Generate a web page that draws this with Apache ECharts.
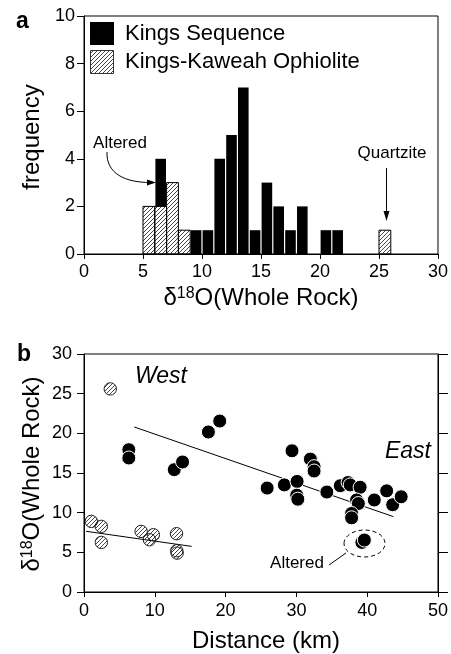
<!DOCTYPE html>
<html>
<head>
<meta charset="utf-8">
<script src="https://cdn.jsdelivr.net/npm/echarts@6/dist/echarts.min.js"></script>
<style>
  html, body { margin: 0; padding: 0; background: #fff; }
  #chart { width: 451px; height: 654px; }
</style>
</head>
<body>
<div id="chart"></div>
<script>
// ---- Panel a: histogram of whole-rock δ18O (1 ‰ bins, keyed by lower edge) ----
const kingsBins   = [6, 9, 10, 11, 12, 13, 14, 15, 16, 17, 18, 20, 21];
const kingsCounts = [2, 1, 1, 4, 5, 7, 1, 3, 2, 1, 2, 1, 1];
const ophioBins   = [5, 6, 7, 8, 25];
const ophioCounts = [2, 2, 3, 1, 1];
const histDeltaTicks = [0, 5, 10, 15, 20, 25, 30];
const histFreqTicks  = [0, 2, 4, 6, 8, 10];

// ---- Panel b: δ18O versus distance across the section ----
const kingsDist = [6.33, 6.33, 12.75, 13.92, 17.57, 19.17, 25.87, 28.3, 29.38, 30.1, 30.05, 30.2,
                   31.97, 32.5, 32.5, 34.3, 36.2, 37.3, 37.6, 39.0, 38.5, 38.75, 37.8, 37.8,
                   41.0, 42.75, 43.6, 44.8];
const kingsD18O = [17.94, 16.89, 15.42, 16.39, 20.17, 21.55, 13.1, 13.5, 17.8, 13.94, 12.2, 11.7,
                   16.75, 15.8, 15.25, 12.6, 13.4, 13.8, 13.5, 13.2, 11.6, 11.15, 9.9, 9.35,
                   11.6, 12.75, 11.0, 12.0];
const alteredDist = [39.25, 39.6];
const alteredD18O = [6.25, 6.55];
const ophioDist = [3.71, 1.04, 2.45, 2.45, 8.07, 9.8, 9.24, 13.07, 13.1, 13.15];
const ophioD18O = [25.6, 8.9, 8.27, 6.25, 7.64, 7.22, 6.59, 7.35, 5.2, 4.9];
const kingsTrendX = [7.1, 43.7];
const kingsTrendY = [20.8, 9.5];
const ophioTrendX = [0.3, 15.2];
const ophioTrendY = [7.65, 5.75];
const distTicks  = [0, 10, 20, 30, 40, 50];
const deltaTicks = [0, 5, 10, 15, 20, 25, 30];

const FONT = '"Liberation Sans", Arial, Helvetica, sans-serif';

// Diagonal "////" fill used for the ophiolite samples
function makeHatch(size, color, width) {
  const c = document.createElement('canvas');
  c.width = size; c.height = size;
  const g = c.getContext('2d');
  g.strokeStyle = color;
  g.lineWidth = width;
  g.beginPath();
  g.moveTo(0, size); g.lineTo(size, 0);
  g.moveTo(-1, 1); g.lineTo(1, -1);
  g.moveTo(size - 1, size + 1); g.lineTo(size + 1, size - 1);
  g.stroke();
  return c;
}
const hatchCanvas = makeHatch(4, '#333', 0.9);
const hatch = () => ({ image: hatchCanvas, repeat: 'repeat' });

// Bars as [lower edge, upper edge, base, top]; Kings bars stack on ophiolite bars
const ophioData = ophioBins.map((b, i) => [b, b + 1, 0, ophioCounts[i]]);
const kingsData = kingsBins.map((b, i) => {
  const j = ophioBins.indexOf(b);
  const base = j >= 0 ? ophioCounts[j] : 0;
  return [b, b + 1, base, base + kingsCounts[i]];
});

function barRenderer(kind) {
  return function (params, api) {
    const p0 = api.coord([api.value(0), api.value(2)]);
    const p1 = api.coord([api.value(1), api.value(3)]);
    if (kind === 'solid') {
      return {
        type: 'rect',
        shape: { x: p0[0] + 0.6, y: p1[1], width: p1[0] - p0[0] - 1.2, height: p0[1] - p1[1] },
        style: { fill: '#000' }
      };
    }
    return {
      type: 'rect',
      shape: { x: p0[0], y: p1[1], width: p1[0] - p0[0], height: p0[1] - p1[1] },
      style: { fill: hatch(), stroke: '#000', lineWidth: 1 }
    };
  };
}

// Hatched sample markers, drawn at true pixel radius so the hatch keeps its spacing
function hatchedDot(params, api) {
  const p = api.coord([api.value(0), api.value(1)]);
  return {
    type: 'circle',
    shape: { cx: p[0], cy: p[1], r: 6.2 },
    style: { fill: hatch(), stroke: '#222', lineWidth: 1 }
  };
}

const axisText = { color: '#000', fontFamily: FONT, fontSize: 18 };
const blackLine = { lineStyle: { color: '#000', width: 1 } };

function valueAxis(ticks, extra) {
  return Object.assign({
    type: 'value',
    min: ticks[0],
    max: ticks[ticks.length - 1],
    interval: ticks[1] - ticks[0],
    splitLine: { show: false },
    axisLine: Object.assign({ show: true, onZero: false }, blackLine),
    axisTick: Object.assign({ show: true, inside: false, length: 6 }, blackLine),
    axisLabel: Object.assign({ show: true, margin: 9 }, axisText),
    z: 10
  }, extra);
}

const titleRich = {
  m: { fontFamily: FONT, fontSize: 24, fill: '#000' },
  s: { fontFamily: FONT, fontSize: 16, fill: '#000', verticalAlign: 'top' }
};

const option = {
  animation: false,
  backgroundColor: '#fff',
  grid: [
    { left: 84, top: 16, width: 356, height: 238, show: true, borderColor: '#000', borderWidth: 1 },
    { left: 84, top: 354, width: 356, height: 238, show: true, borderColor: '#000', borderWidth: 1 }
  ],
  xAxis: [
    valueAxis(histDeltaTicks, { gridIndex: 0, axisTick: Object.assign({ length: 5 }, blackLine), axisLabel: Object.assign({ margin: 9 }, axisText) }),
    valueAxis(distTicks, { gridIndex: 1, axisTick: Object.assign({ length: 5 }, blackLine), axisLabel: Object.assign({ margin: 10 }, axisText) })
  ],
  yAxis: [
    valueAxis(histFreqTicks, { gridIndex: 0, axisTick: Object.assign({ length: 7 }, blackLine), axisLabel: Object.assign({ margin: 9 }, axisText) }),
    valueAxis(deltaTicks, { gridIndex: 1, axisTick: Object.assign({ length: 7 }, blackLine), axisLabel: Object.assign({ margin: 12 }, axisText) }),
    valueAxis(deltaTicks, { gridIndex: 1, position: 'right', axisTick: Object.assign({ length: 10 }, blackLine), axisLabel: { show: false } })
  ],
  series: [
    {
      name: 'Kings-Kaweah Ophiolite', type: 'custom', xAxisIndex: 0, yAxisIndex: 0,
      renderItem: barRenderer('hatched'), data: ophioData, z: 3
    },
    {
      name: 'Kings Sequence', type: 'custom', xAxisIndex: 0, yAxisIndex: 0,
      renderItem: barRenderer('solid'), data: kingsData, z: 2
    },
    {
      name: 'Kings trend', type: 'line', xAxisIndex: 1, yAxisIndex: 1, symbol: 'none',
      lineStyle: { color: '#000', width: 1 }, z: 2,
      data: kingsTrendX.map((x, i) => [x, kingsTrendY[i]])
    },
    {
      name: 'Ophiolite trend', type: 'line', xAxisIndex: 1, yAxisIndex: 1, symbol: 'none',
      lineStyle: { color: '#000', width: 1 }, z: 2,
      data: ophioTrendX.map((x, i) => [x, ophioTrendY[i]])
    },
    {
      name: 'Ophiolite samples', type: 'custom', xAxisIndex: 1, yAxisIndex: 1, z: 3,
      renderItem: hatchedDot,
      data: ophioDist.map((x, i) => [x, ophioD18O[i]])
    },
    {
      name: 'Kings samples', type: 'scatter', xAxisIndex: 1, yAxisIndex: 1,
      symbol: 'circle', symbolSize: 14, z: 4,
      itemStyle: { color: '#000', borderColor: '#fff', borderWidth: 1, opacity: 1 },
      data: kingsDist.map((x, i) => [x, kingsD18O[i]])
    },
    {
      name: 'Altered samples', type: 'scatter', xAxisIndex: 1, yAxisIndex: 1,
      symbol: 'circle', symbolSize: 14, z: 4,
      itemStyle: { color: '#000', borderColor: '#fff', borderWidth: 1, opacity: 1 },
      data: alteredDist.map((x, i) => [x, alteredD18O[i]])
    }
  ],
  graphic: [
    // panel letters
    { type: 'text', left: 16, top: 10, style: { text: 'a', font: 'bold 23px ' + FONT, fill: '#000' } },
    { type: 'text', left: 17, top: 343, style: { text: 'b', font: 'bold 23px ' + FONT, fill: '#000' } },
    // legend
    { type: 'rect', shape: { x: 90, y: 22, width: 24, height: 23 }, style: { fill: '#000' } },
    { type: 'rect', shape: { x: 90.5, y: 50.5, width: 23, height: 23 }, style: { fill: hatch(), stroke: '#333', lineWidth: 1 } },
    { type: 'text', x: 125, y: 34, style: { text: 'Kings Sequence', font: '22px ' + FONT, fill: '#000', verticalAlign: 'middle' } },
    { type: 'text', x: 125, y: 62, style: { text: 'Kings-Kaweah Ophiolite', font: '22px ' + FONT, fill: '#000', verticalAlign: 'middle' } },
    // axis titles, panel a
    { type: 'text', x: 32, y: 137, rotation: Math.PI / 2,
      style: { text: 'frequency', font: '24px ' + FONT, fill: '#000', align: 'center', verticalAlign: 'middle' } },
    { type: 'text', x: 261, y: 298,
      style: { text: '{m|δ}{s|18}{m|O(Whole Rock)}', align: 'center', verticalAlign: 'middle', rich: titleRich } },
    // axis titles, panel b
    { type: 'text', x: 32, y: 474, rotation: Math.PI / 2,
      style: { text: '{m|δ}{s|18}{m|O(Whole Rock)}', align: 'center', verticalAlign: 'middle', rich: titleRich } },
    { type: 'text', x: 266, y: 641,
      style: { text: 'Distance (km)', font: '24px ' + FONT, fill: '#000', align: 'center', verticalAlign: 'middle' } },
    // annotations, panel a
    { type: 'text', x: 120, y: 143, style: { text: 'Altered', font: '17px ' + FONT, fill: '#000', align: 'center', verticalAlign: 'middle' } },
    { type: 'bezierCurve', shape: { x1: 107, y1: 152, cpx1: 106, cpy1: 174, cpx2: 126, cpy2: 182.5, x2: 150, y2: 182.5 },
      style: { stroke: '#000', lineWidth: 1, fill: null } },
    { type: 'polygon', shape: { points: [[156, 182.5], [147, 179.5], [147, 185.5]] }, style: { fill: '#000' } },
    { type: 'text', x: 392, y: 153, style: { text: 'Quartzite', font: '17px ' + FONT, fill: '#000', align: 'center', verticalAlign: 'middle' } },
    { type: 'line', shape: { x1: 386.5, y1: 168, x2: 386.5, y2: 213 }, style: { stroke: '#000', lineWidth: 1 } },
    { type: 'polygon', shape: { points: [[386.5, 221], [383.5, 211], [389.5, 211]] }, style: { fill: '#000' } },
    // annotations, panel b
    { type: 'text', x: 161, y: 377, style: { text: 'West', font: 'italic 23px ' + FONT, fill: '#000', align: 'center', verticalAlign: 'middle' } },
    { type: 'text', x: 408, y: 452, style: { text: 'East', font: 'italic 23px ' + FONT, fill: '#000', align: 'center', verticalAlign: 'middle' } },
    { type: 'text', x: 297, y: 563, style: { text: 'Altered', font: '17px ' + FONT, fill: '#000', align: 'center', verticalAlign: 'middle' } },
    { type: 'line', shape: { x1: 329, y1: 565, x2: 346, y2: 553 }, style: { stroke: '#000', lineWidth: 1 } },
    { type: 'ellipse', shape: { cx: 364.5, cy: 543.5, rx: 20.5, ry: 13.5 },
      style: { fill: null, stroke: '#000', lineWidth: 1, lineDash: [4, 3] } }
  ]
};

const chart = echarts.init(document.getElementById('chart'), null, { renderer: 'canvas' });
chart.setOption(option);
</script>
</body>
</html>
